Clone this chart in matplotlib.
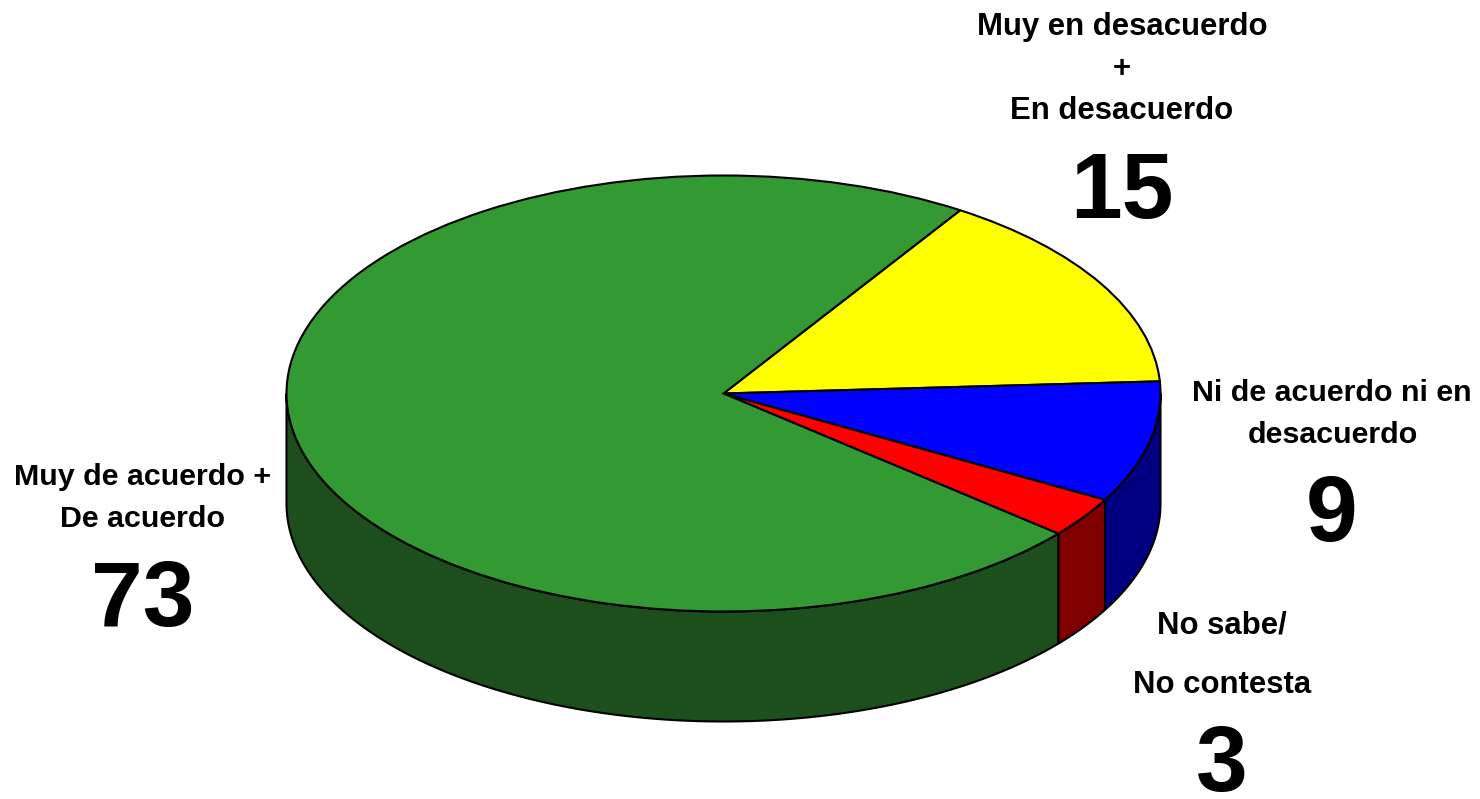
import numpy as np
import matplotlib
matplotlib.use("Agg")
import matplotlib.pyplot as plt

categories = ["Muy en desacuerdo + En desacuerdo", "Ni de acuerdo ni en desacuerdo",
              "No sabe/No contesta", "Muy de acuerdo + De acuerdo"]
values = [15, 9, 3, 73]
top_colors = ["#FFFF00", "#0000FF", "#FF0000", "#339933"]
side_colors = ["#808000", "#000080", "#800000", "#1C4F1C"]

W, H = 1480, 799
CX, CY, RX, RY, DEPTH = 723.5, 393.5, 437, 218, 110
START = 57.2

plt.rcParams["font.family"] = ["Liberation Sans", "DejaVu Sans"]
fig = plt.figure(figsize=(W / 100, H / 100), dpi=100, facecolor="white")
ax = fig.add_axes([0, 0, 1, 1])
ax.set_axis_off()

d = DEPTH / RY
fractions = np.array(values) / sum(values)
edges = START - 360 * np.concatenate([[0], np.cumsum(fractions)])
for i, color in enumerate(side_colors):
    hi = min(edges[i], 0)
    lo = max(edges[i + 1], -180)
    if hi <= lo:
        continue
    t = np.radians(np.linspace(hi, lo, 200))
    x, y = np.cos(t), np.sin(t)
    ax.fill(np.r_[x, x[::-1]], np.r_[y, y[::-1] - d], facecolor=color,
            edgecolor="black", linewidth=1.5, zorder=1, joinstyle="round")

ax.pie(values, colors=top_colors, startangle=START, counterclock=False, radius=1,
       wedgeprops=dict(edgecolor="black", linewidth=1.5, zorder=2), normalize=True)
ax.set_aspect("auto")
ax.set_xlim(-CX / RX, (W - CX) / RX)
ax.set_ylim(-(H - CY) / RY, CY / RY)


def label(px, py, s, size):
    fig.text(px / W, 1 - py / H, s, ha="center", va="baseline", fontsize=size,
             fontweight="bold", color="black")


SMALL, MID, BIG = 22.4, 21.9, 67
label(1122, 35, "Muy en desacuerdo", SMALL)
label(1122, 77, "+", SMALL)
label(1122, 119, "En desacuerdo", SMALL)
label(1122, 218, str(values[0]), BIG)
label(1332, 401, "Ni de acuerdo ni en", MID)
label(1333, 443, "desacuerdo", MID)
label(1332, 541, str(values[1]), BIG)
label(1222, 634, "No sabe/", SMALL)
label(1222, 693, "No contesta", SMALL)
label(1222, 791, str(values[2]), BIG)
label(143, 485, "Muy de acuerdo +", MID)
label(143, 527, "De acuerdo", MID)
label(143, 626, str(values[3]), BIG)

fig.savefig("out.png", dpi=100)
